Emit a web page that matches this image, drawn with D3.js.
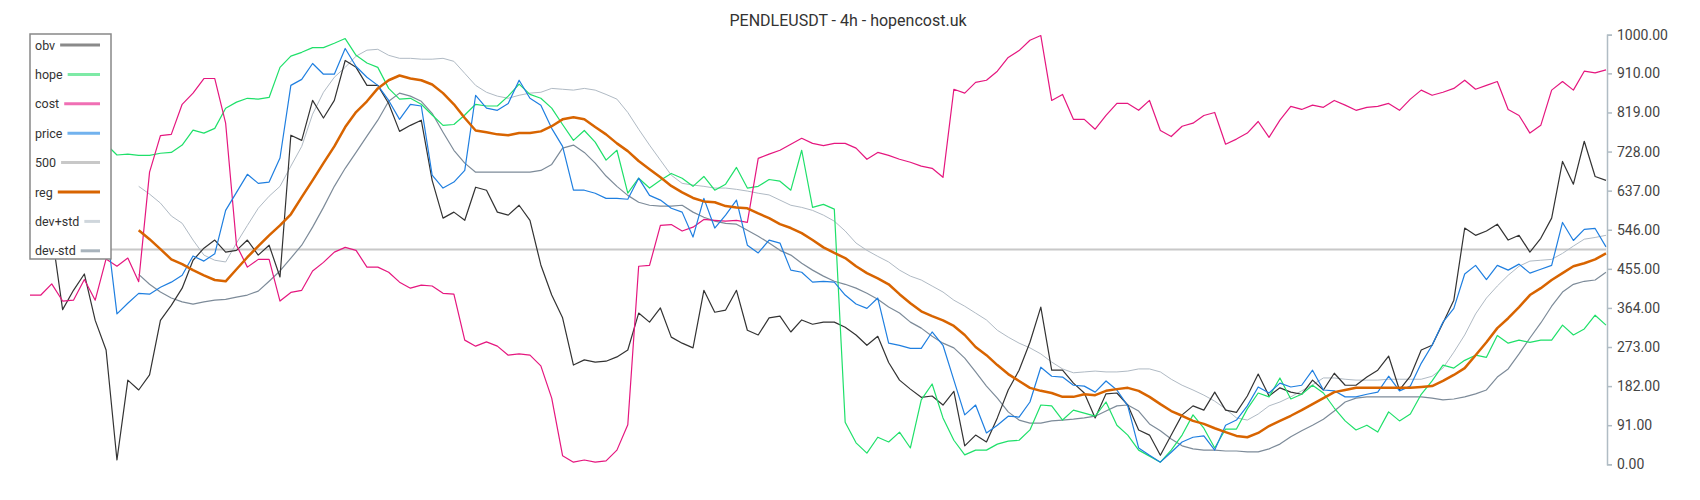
<!DOCTYPE html>
<html><head><meta charset="utf-8">
<script src="https://cdn.jsdelivr.net/npm/d3@7"></script>
<style>body{margin:0;background:#fff}svg{display:block;font-family:Roboto,'DejaVu Sans',sans-serif}</style>
</head><body><svg id="c" width="1700" height="500"></svg>
<script>
const obv=[560,600,540,360,405,443,335,266,10,196,
173,208,335,370,410,475,503,522,494,498,
522,487,510,436,766,754,847,806,847,940,
924,882,882,840,775,789,801,661,573,587,
568,645,638,587,580,603,568,464,394,341,
231,243,238,240,250,266,352,331,364,296,
282,271,405,354,359,405,312,301,341,345,
308,336,326,331,331,319,301,277,298,237,
196,175,156,159,138,170,43,68,52,108,
173,219,284,366,219,219,189,166,108,164,
166,138,80,68,21,68,115,136,126,168,
126,121,159,210,159,178,168,163,196,173,
212,184,184,203,219,252,173,205,266,277,
329,382,550,533,543,559,522,533,494,526,
573,705,652,752,670,661];
const hope=[700,720,710,730,720,740,735,745,720,722,
719,719,724,726,743,778,771,782,829,843,
852,850,854,924,950,959,970,970,980,991,
952,934,924,875,850,852,838,813,789,791,
813,838,834,834,857,885,861,852,829,791,
754,777,750,708,731,631,666,643,661,677,
666,647,670,638,652,691,643,647,663,659,
638,731,598,605,594,98,50,26,63,52,
75,38,150,187,108,56,22,33,33,47,
54,56,80,138,136,103,126,119,112,145,
91,68,33,19,5,33,68,115,84,38,
82,82,129,166,157,201,152,163,184,166,
131,101,80,91,75,122,101,117,163,194,
231,224,242,254,249,300,282,289,284,289,
289,324,301,315,347,324];
const cost=[394,394,420,380,382,430,382,478,461,480,
425,680,765,768,838,864,898,898,794,510,
459,477,477,380,400,405,450,470,494,505,
498,459,459,447,424,410,417,415,398,396,
289,275,285,275,254,257,254,229,154,20,
5,10,5,8,33,92,461,463,556,558,
543,552,570,568,566,568,563,712,722,731,
745,759,747,742,747,747,736,710,726,719,
710,703,694,689,668,873,864,889,894,915,
947,963,987,998,847,861,803,803,780,812,
840,840,824,847,777,763,787,794,812,819,
745,757,771,798,761,801,833,826,836,831,
847,836,824,831,833,840,824,850,871,859,
866,875,894,873,882,891,826,812,771,789,
871,891,871,915,911,918];
const price=[620,640,610,600,590,610,580,560,350,375,
398,396,412,424,440,485,473,490,591,633,
675,654,657,713,882,896,933,908,908,968,
926,901,882,847,803,838,834,673,643,657,
684,859,829,824,840,894,852,836,782,740,
638,638,631,619,619,617,666,626,615,596,
587,529,619,550,580,615,510,492,522,515,
452,447,424,426,424,394,373,363,387,282,
277,270,270,308,277,196,115,138,73,91,
112,110,145,226,205,203,184,182,168,194,
173,136,38,21,5,28,52,63,66,33,
91,103,136,180,166,189,180,184,219,173,
171,157,157,163,168,205,171,182,235,277,
331,363,443,463,430,463,452,466,445,454,
463,563,521,547,549,506];
const line500=d3.range(146).map(()=>500);
const reg=[null,null,null,null,null,null,null,null,null,null,
545,524,501,477,466,452,440,429,426,454,
482,508,533,556,582,622,661,701,740,785,
820,845,875,894,905,898,894,884,864,838,
806,777,773,768,766,771,771,775,787,803,
808,803,785,768,747,729,706,687,668,648,
633,620,612,610,601,598,596,584,573,559,
550,538,522,505,492,480,461,445,433,419,
396,375,356,345,335,322,301,273,254,231,
210,194,178,171,166,157,157,163,161,171,
175,178,171,157,140,124,113,101,94,84,
75,66,63,73,89,101,113,126,140,154,
168,173,178,178,178,178,178,178,180,182,
194,208,224,254,284,317,340,366,394,410,
429,445,461,468,477,491];
const devPlus=[null,null,null,null,null,null,null,null,null,null,
647,629,608,578,561,522,487,475,471,515,
556,596,624,647,694,740,815,866,901,924,
950,964,966,952,945,945,943,943,945,938,
910,882,866,857,852,859,864,866,875,873,
871,875,871,861,850,819,780,743,708,673,
654,650,647,643,643,640,636,631,627,615,
603,598,591,580,566,543,515,498,484,471,
452,438,429,415,401,382,368,352,336,312,
296,282,271,257,238,222,213,215,217,215,
215,217,222,222,215,198,184,173,161,147,
129,108,103,117,136,145,157,171,185,201,
201,198,196,196,196,198,198,198,198,205,
224,261,301,350,387,415,440,461,473,475,
477,491,508,524,528,533];
const devMinus=[null,null,null,null,null,null,null,null,null,null,
442,419,401,387,378,373,378,382,384,389,
394,403,426,450,480,510,552,598,647,689,
726,764,801,845,864,857,845,817,773,731,
701,680,680,680,680,680,680,684,698,736,
743,726,701,671,647,626,610,603,601,601,
603,587,575,566,561,559,545,531,515,498,
487,468,452,438,426,419,410,398,384,366,
352,331,317,298,282,271,247,215,182,154,
122,103,96,96,101,103,105,108,112,124,
136,138,124,94,78,59,43,36,33,33,
31,31,29,29,36,47,64,78,91,105,
124,145,154,157,157,157,157,157,157,154,
150,152,157,164,173,203,222,257,294,329,
368,401,419,426,429,447];
const tickVals=[0,91,182,273,364,455,546,637,728,819,910,1000];
const title="PENDLEUSDT - 4h - hopencost.uk";

const series=[
 {name:"obv",data:obv,color:"#333333",w:1.2,lc:"#8a8a8a"},
 {name:"hope",data:hope,color:"#1fe06a",w:1.2,lc:"#7eeaa6"},
 {name:"cost",data:cost,color:"#e5177f",w:1.2,lc:"#f06fb4"},
 {name:"price",data:price,color:"#1f7fe0",w:1.2,lc:"#72b2ee"},
 {name:"500",data:line500,color:"#c8c8c8",w:2,lc:"#c8c8c8"},
 {name:"reg",data:reg,color:"#d86400",w:2.5,lc:"#d86400"},
 {name:"dev+std",data:devPlus,color:"#b0bac4",w:1,lc:"#cfd6dc"},
 {name:"dev-std",data:devMinus,color:"#7d8b99",w:1.2,lc:"#a8b3bc"}
];
const svg=d3.select("#c");
svg.append("rect").attr("width",1700).attr("height",500).attr("fill","#fff");
const N=obv.length;
const x=d3.scaleLinear().domain([0,N-1]).range([30,1606]);
const y=d3.scaleLinear().domain([0,1000]).range([464.3,34.7]);
const line=d3.line().defined(d=>d!=null).x((d,i)=>x(i)).y(d=>y(d));
const order=["500","dev+std","dev-std","obv","hope","cost","price","reg"];
order.forEach(n=>{
  const s=series.find(q=>q.name===n);
  svg.append("path").datum(s.data).attr("d",line).attr("fill","none")
    .attr("stroke",s.color).attr("stroke-width",s.w).attr("stroke-linejoin","round");
});
// axis
const ax=svg.append("g").attr("transform","translate(1607,0)")
  .call(d3.axisRight(y).tickValues(tickVals).tickFormat(d=>d.toFixed(2)).tickSizeInner(5).tickSizeOuter(5).tickPadding(5));
ax.select(".domain").attr("stroke","#b0bcc4").attr("stroke-width",1.5);
ax.selectAll(".tick line").attr("stroke","#b0bcc4").attr("stroke-width",1.5);
ax.selectAll(".tick text").attr("fill","#444").attr("font-size",14).attr("font-family","Roboto");
// title
svg.append("text").attr("x",848).attr("y",26).attr("text-anchor","middle")
  .attr("font-size",16).attr("fill","#333").attr("font-family","Roboto").text(title);
// legend
const lg=svg.append("g");
lg.append("rect").attr("x",30).attr("y",34).attr("width",81).attr("height",225)
  .attr("fill","#fff").attr("stroke","#888").attr("stroke-width",1.5);
series.forEach((s,i)=>{
  const cy=45+i*29.4;
  const t=lg.append("text").attr("x",35).attr("y",cy+4.5).attr("font-size",12.5)
    .attr("fill","#333").attr("font-family","Roboto").text(s.name);
  const tw=t.node().getComputedTextLength();
  lg.append("line").attr("x1",35+tw+5).attr("x2",100).attr("y1",cy).attr("y2",cy)
    .attr("stroke",s.lc).attr("stroke-width",3);
});
</script></body></html>
